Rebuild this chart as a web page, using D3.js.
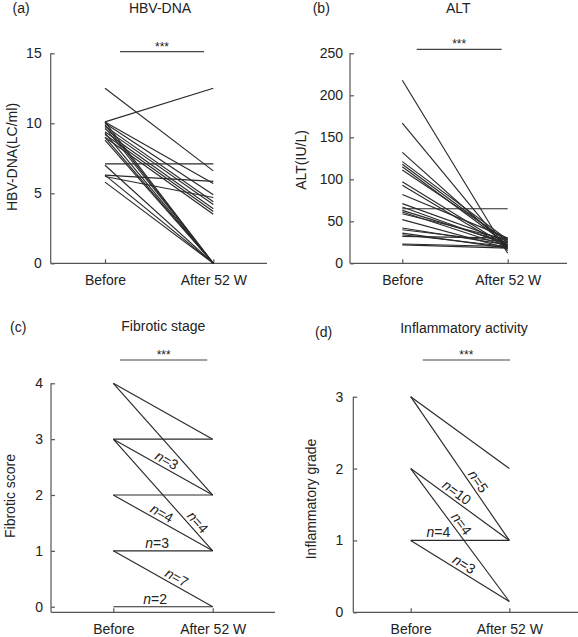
<!DOCTYPE html>
<html><head><meta charset="utf-8">
<script src="https://cdn.jsdelivr.net/npm/d3@7"></script>
<style>
body{margin:0;background:#fff;}
svg text{font-family:"Liberation Sans",Arial,sans-serif;fill:#222;}
</style></head>
<body><svg id="c" width="578" height="637"></svg>
<script>
// ---------- DATA ----------
const groups = ["Before", "After 52 W"];

// (a) HBV-DNA (log copies/ml), paired values per patient
const hbvBefore = [12.5, 10.1, 10.1, 10.0, 9.8, 9.6, 9.4, 9.2, 9.0, 10.1, 9.9, 9.7, 9.3, 9.0, 8.8, 7.1, 7.0, 6.3, 6.2, 6.3, 5.8];
const hbvAfter  = [6.6, 12.5, 5.7, 4.9, 4.4, 4.2, 3.9, 3.7, 3.5, 0, 0, 0, 0, 0, 0, 7.1, 0, 5.85, 4.7, 0, 0];
const hbvTicks = [0, 5, 10, 15];

// (b) ALT (IU/L)
const altBefore = [218, 167, 132, 121, 118, 115, 111, 97, 93, 82, 71, 67, 65, 63, 61, 59, 52, 42, 40, 36, 34, 32, 23, 22];
const altAfter  = [12, 15, 20, 28, 25, 22, 27, 20, 18, 30, 26, 22, 65, 24, 20, 28, 18, 22, 25, 18, 20, 30, 20, 18];
const altTicks = [0, 50, 100, 150, 200, 250];

// (c) Fibrotic stage: transitions (before score, after score, label)
const fibBefore = [4, 4, 3, 3, 3, 2, 2, 1, 1, 0];
const fibAfter  = [3, 2, 3, 2, 1, 2, 1, 1, 0, 0];
const fibLabels = ["", "", "", "n=3", "n=4", "", "n=4", "n=3", "n=7", "n=2"];
const fibTicks = [0, 1, 2, 3, 4];

// (d) Inflammatory activity
const infBefore = [3, 3, 2, 2, 1, 1];
const infAfter  = [2, 1, 1, 0.15, 1, 0.15];
const infLabels = ["", "n=5", "n=10", "n=4", "n=4", "n=3"];
const infTicks = [0, 1, 2, 3];

// ---------- DRAW ----------
const svg = d3.select("#c");

function panel(o) {
  const g = svg.append("g");
  const y = d3.scaleLinear().domain(o.domain).range(o.yRange);
  const x = d3.scalePoint().domain(groups).range([o.xb, o.xa]);
  const yBase = o.yRange[0];

  // y axis
  const ya = g.append("g").attr("transform", `translate(${o.axisX},0)`)
    .call(d3.axisLeft(y).tickValues(o.ticks).tickFormat(d3.format("d"))
      .tickSize(-4).tickSizeOuter(0).tickPadding(o.tickPad));
  ya.selectAll("path,line").attr("stroke", "#555").attr("stroke-width", 1.2);
  ya.selectAll("text").attr("font-size", 14).attr("fill", "#222")
    .attr("font-family", '"Liberation Sans",Arial,sans-serif');
  ya.select(".domain").attr("d", `M0,${yBase}V${y(o.ticks[o.ticks.length-1])}`);

  // x axis
  const xa = g.append("g").attr("transform", `translate(0,${yBase})`)
    .call(d3.axisBottom(x).tickSize(-4).tickPadding(12));
  xa.select(".domain").attr("d", `M${o.axisX},0H${o.rightEnd}`);
  xa.selectAll("path,line").attr("stroke", "#555").attr("stroke-width", 1.2);
  xa.selectAll("text").attr("font-size", 14).attr("fill", "#222")
    .attr("font-family", '"Liberation Sans",Arial,sans-serif');

  // paired lines
  const pairs = o.before.map((b, i) => ({b, a: o.after[i], lab: o.labels ? o.labels[i] : ""}));
  g.append("g").selectAll("line").data(pairs).join("line")
    .attr("x1", x(groups[0])).attr("x2", x(groups[1]))
    .attr("y1", d => y(d.b)).attr("y2", d => y(d.a))
    .attr("stroke", "#2a2a2a").attr("stroke-width", 1.15);

  // n labels
  if (o.labels) {
    pairs.forEach((d, i) => {
      if (!d.lab) return;
      const t = o.labelT[i];
      const x0 = x(groups[0]), x1 = x(groups[1]), y0 = y(d.b), y1 = y(d.a);
      const px = x0 + t * (x1 - x0), py = y0 + t * (y1 - y0);
      const ang = Math.atan2(y1 - y0, x1 - x0) * 180 / Math.PI;
      const tx = g.append("text").attr("transform", `translate(${px},${py}) rotate(${ang})`)
        .attr("y", -3).attr("text-anchor", "middle").attr("font-size", 14);
      tx.append("tspan").attr("font-style", "italic").text(d.lab.split("=")[0]);
      tx.append("tspan").text("=" + d.lab.split("=")[1]);
    });
  }

  // significance bar
  g.append("line").attr("x1", o.sig[0]).attr("x2", o.sig[1]).attr("y1", o.sig[2]).attr("y2", o.sig[2])
    .attr("stroke", "#444").attr("stroke-width", 1.2);
  g.append("text").attr("x", (o.sig[0] + o.sig[1]) / 2).attr("y", o.sig[2] - 1)
    .attr("text-anchor", "middle").attr("font-size", 12).text("***");

  // titles
  g.append("text").attr("x", o.tag[0]).attr("y", o.tag[1]).attr("font-size", 14).text(o.tagText);
  g.append("text").attr("x", o.title[0]).attr("y", o.title[1]).attr("text-anchor", "middle")
    .attr("font-size", 14).text(o.titleText);
  g.append("text").attr("transform", `translate(${o.ylab[0]},${o.ylab[1]}) rotate(-90)`)
    .attr("text-anchor", "middle").attr("font-size", 14).text(o.ylabText);
}

panel({domain: [0, 15], yRange: [263.3, 53.3], ticks: hbvTicks, axisX: 50.7, rightEnd: 267, xb: 105, xa: 213.3,
  tickPad: 9, before: hbvBefore, after: hbvAfter, sig: [120, 204, 51.7],
  tag: [12.5, 12.5], tagText: "(a)", title: [160, 12.5], titleText: "HBV-DNA",
  ylab: [17, 157], ylabText: "HBV-DNA(LC/ml)"});

panel({domain: [0, 250], yRange: [263.3, 53.3], ticks: altTicks, axisX: 350, rightEnd: 567, xb: 402.3, xa: 507.7,
  tickPad: 7, before: altBefore, after: altAfter, sig: [416.7, 501.7, 49.3],
  tag: [312.7, 12.5], tagText: "(b)", title: [458.3, 12.5], titleText: "ALT",
  ylab: [306, 160], ylabText: "ALT(IU/L)"});

panel({domain: [-0.1, 4], yRange: [612.3, 383.3], ticks: fibTicks, axisX: 51, rightEnd: 275, xb: 113.3, xa: 212.7,
  tickPad: 8, before: fibBefore, after: fibAfter, labels: fibLabels,
  labelT: [0, 0, 0, 0.5, 0.79, 0, 0.45, 0.44, 0.6, 0.42], sig: [120, 207.3, 360],
  tag: [10, 332], tagText: "(c)", title: [163.3, 331], titleText: "Fibrotic stage",
  ylab: [15, 496], ylabText: "Fibrotic score"});

panel({domain: [0, 3], yRange: [612.3, 396.7], ticks: infTicks, axisX: 353.3, rightEnd: 578, xb: 410.7, xa: 509.3,
  tickPad: 10, before: infBefore, after: infAfter, labels: infLabels,
  labelT: [0, 0.62, 0.42, 0.45, 0.28, 0.5], sig: [422.7, 510, 360],
  tag: [315, 337], tagText: "(d)", title: [464, 333], titleText: "Inflammatory activity",
  ylab: [316, 499], ylabText: "Inflammatory grade"});
</script>
</body></html>
